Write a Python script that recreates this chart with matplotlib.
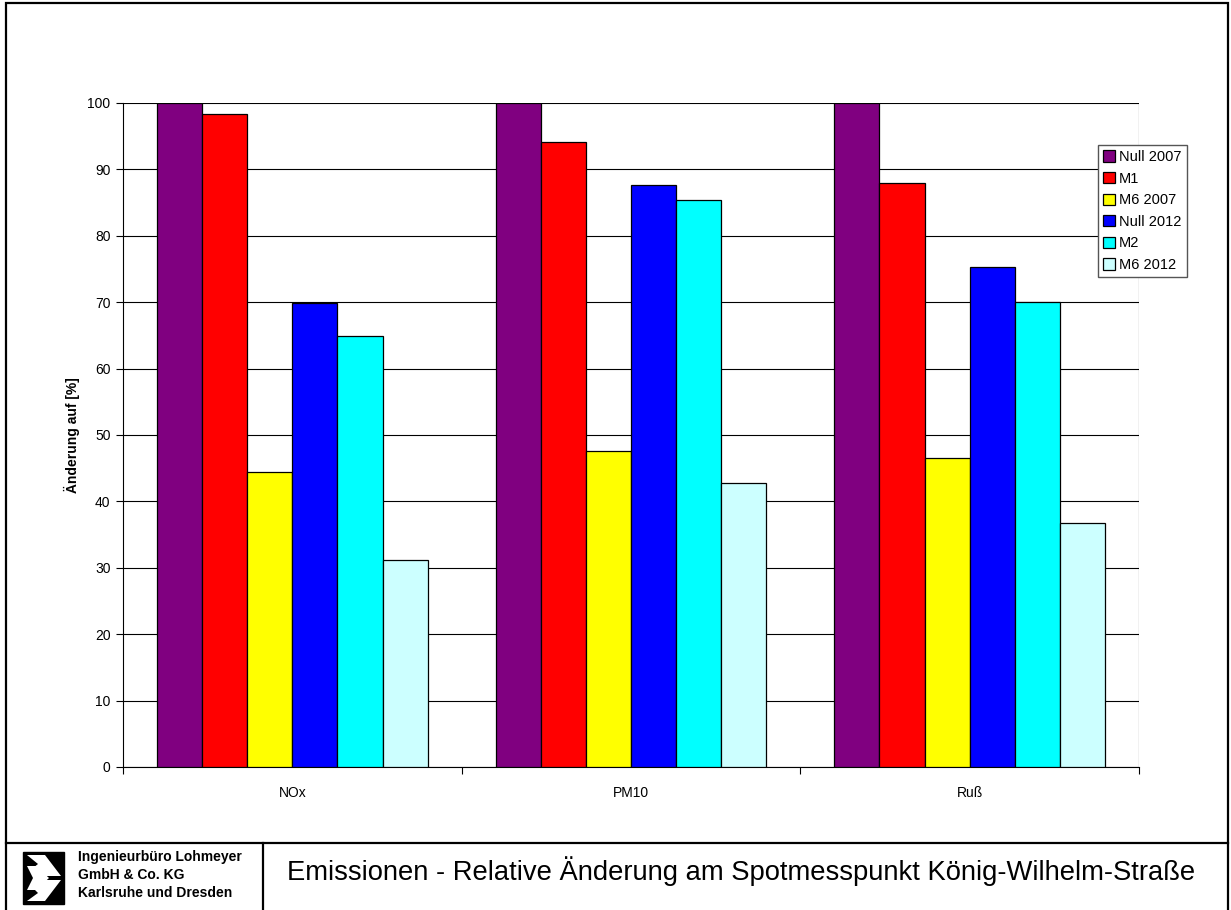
import numpy as np
import matplotlib
matplotlib.use("Agg")
import matplotlib.pyplot as plt
from matplotlib.patches import Rectangle, Polygon
from matplotlib.lines import Line2D

plt.rcParams["font.family"] = ["Liberation Sans", "DejaVu Sans"]

categories = ["NOx", "PM10", "Ruß"]
series_names = ["Null 2007", "M1", "M6 2007", "Null 2012", "M2", "M6 2012"]
null_2007 = [100.0, 100.0, 100.0]
m1 = [98.4, 94.2, 88.0]
m6_2007 = [44.4, 47.6, 46.5]
null_2012 = [69.9, 87.7, 75.3]
m2 = [64.9, 85.4, 70.1]
m6_2012 = [31.1, 42.7, 36.7]
colors = ["#800080", "#ff0000", "#ffff00", "#0000ff", "#00ffff", "#ccffff"]
yticks = list(range(0, 101, 10))

W, H = 1231, 910
fig = plt.figure(figsize=(W / 100, H / 100), dpi=100)


def fx(px):
    return px / W


def fy(py):
    return 1 - py / H


ax = fig.add_axes([fx(123), fy(767), fx(1139) - fx(123), fy(103) - fy(767)])

values = [null_2007, m1, m6_2007, null_2012, m2, m6_2012]
x = np.arange(len(categories))
bw = 0.8 / len(values)
for i, (name, vals, col) in enumerate(zip(series_names, values, colors)):
    ax.bar(x - 0.4 + bw * (i + 0.5), vals, width=bw, color=col,
           edgecolor="black", linewidth=0.9, label=name, zorder=3)

ax.set_xlim(-0.5, len(categories) - 0.5)
ax.set_ylim(0, 100)
ax.set_yticks(yticks)
ax.tick_params(axis="y", labelsize=10, length=5, direction="out", width=0.8, pad=4)
ax.yaxis.grid(True, color="black", linewidth=0.8, zorder=0)
ax.set_axisbelow(True)

ax.set_xticks(x)
ax.set_xticklabels(categories, fontsize=10)
ax.tick_params(axis="x", length=0, pad=14)
ax.set_xticks(np.arange(len(categories) + 1) - 0.5, minor=True)
ax.tick_params(axis="x", which="minor", length=5, width=0.8, direction="out")

for side in ["top", "right"]:
    ax.spines[side].set_visible(False)
for side in ["left", "bottom"]:
    ax.spines[side].set_linewidth(0.8)
ax.axhline(100, color="black", linewidth=1.2, zorder=4)
ax.axvline(len(categories) - 0.5, ymin=0, ymax=1, color="black", linewidth=0.8, zorder=1)

ax.set_ylabel("Änderung auf [%]", fontsize=10, fontweight="bold", labelpad=5)

leg = fig.legend(loc="upper left", bbox_to_anchor=(fx(1098), fy(145)),
                 borderaxespad=0, fontsize=10.5, fancybox=False, edgecolor="#555555",
                 handlelength=0.8, handleheight=0.8, handletextpad=0.3,
                 labelspacing=0.52, borderpad=0.35, framealpha=1)
leg.get_frame().set_linewidth(1.0)

# outer frame and footer
fig.add_artist(Rectangle((fx(6), fy(914)), fx(1228) - fx(6), fy(3) - fy(914),
                         transform=fig.transFigure, fill=False, edgecolor="black",
                         linewidth=1.6))
fig.add_artist(Line2D([fx(6), fx(1228)], [fy(843), fy(843)],
                      transform=fig.transFigure, color="black", linewidth=1.6))
fig.add_artist(Line2D([fx(263), fx(263)], [fy(843), fy(914)],
                      transform=fig.transFigure, color="black", linewidth=1.6))

# logo
fig.add_artist(Rectangle((fx(23), fy(904)), fx(64) - fx(23), fy(852) - fy(904),
                         transform=fig.transFigure, facecolor="black", edgecolor="black"))
chevrons = [
    [(27, 855), (45, 855), (61, 876), (45, 876), (33, 868), (38, 864)],
    [(27, 866), (36, 866), (49, 878), (36, 890), (27, 890), (33, 878)],
    [(45, 880), (61, 880), (45, 901), (27, 901), (38, 893), (33, 888)],
]
for pts in chevrons:
    fig.add_artist(Polygon([(fx(a), fy(b)) for a, b in pts], closed=True,
                           transform=fig.transFigure, facecolor="white", edgecolor="none"))

for i, line in enumerate(["Ingenieurbüro Lohmeyer", "GmbH & Co. KG", "Karlsruhe und Dresden"]):
    fig.text(fx(78), fy(857 + 18 * i), line, fontsize=10, fontweight="bold",
             ha="left", va="center")

fig.text(fx(287), fy(871), "Emissionen - Relative Änderung am Spotmesspunkt König-Wilhelm-Straße",
         fontsize=19.7, ha="left", va="center")

fig.savefig("out.png", dpi=100)
